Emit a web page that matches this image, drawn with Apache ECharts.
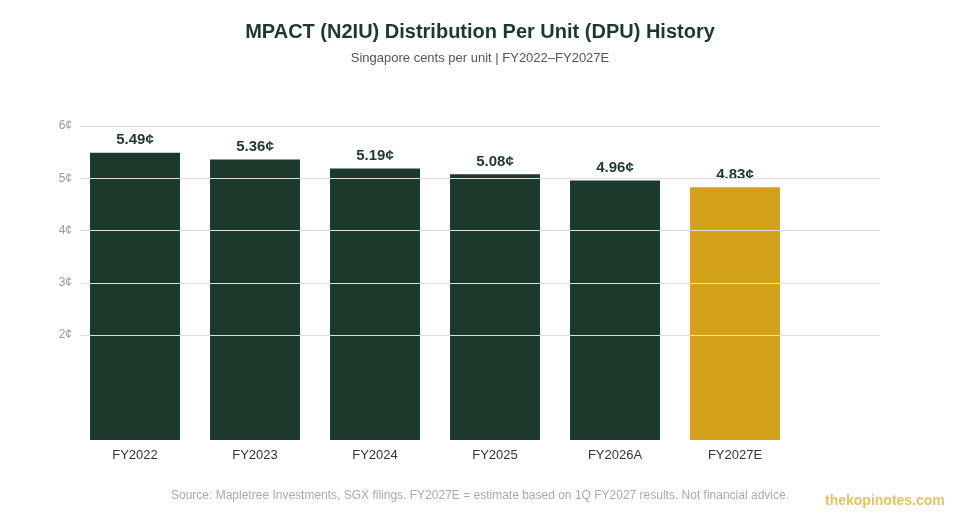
<!DOCTYPE html>
<html>
<head>
<meta charset="utf-8">
<script src="https://cdn.jsdelivr.net/npm/echarts@6/dist/echarts.min.js"></script>
<style>
  html, body { margin: 0; padding: 0; background: #fff; }
  #chart { width: 960px; height: 520px; }
</style>
</head>
<body>
<div id="chart"></div>
<script>
// DPU 数据
let years = ["FY2022", "FY2023", "FY2024", "FY2025", "FY2026A", "FY2027E"];
let dpu = [5.49, 5.36, 5.19, 5.08, 4.96, 4.83];
let estimateIndex = 5; // 估计值用金色
let darkGreen = "#1b3a2b";
let gold = "#d4a11a";

var myChart = echarts.init(document.getElementById("chart"));
option = {
    backgroundColor: "#fff",
    animation: false,
    title: [
        {
            text: "MPACT (N2IU) Distribution Per Unit (DPU) History",
            left: "center",
            top: 17,
            textStyle: { color: darkGreen, fontSize: 20, fontWeight: "bold", fontFamily: "Liberation Sans, Arial" }
        },
        {
            text: "Singapore cents per unit | FY2022\u2013FY2027E",
            left: "center",
            top: 47,
            textStyle: { color: "#555", fontSize: 13, fontWeight: "normal", fontFamily: "Liberation Sans, Arial" }
        },
        {
            text: "Source: Mapletree Investments, SGX filings. FY2027E = estimate based on 1Q FY2027 results. Not financial advice.",
            left: 166,
            top: 485,
            textStyle: { color: "#aaa", fontSize: 12, fontWeight: "normal", fontFamily: "Liberation Sans, Arial" }
        },
        {
            text: "thekopinotes.com",
            left: 820,
            top: 489,
            textStyle: { color: "#e6c263", fontSize: 14, fontWeight: "bold", fontFamily: "Liberation Sans, Arial" }
        }
    ],
    grid: [
        // 网格线和刻度 (2¢ - 6¢)
        { left: 80, right: 80, top: 126, bottom: 185 },
        // 柱子
        { left: 75, right: 165, top: 126, bottom: 80 }
    ],
    xAxis: [
        { gridIndex: 0, type: "value", show: false, min: 0, max: 1 },
        {
            gridIndex: 1,
            type: "category",
            data: years,
            axisLine: { show: false },
            axisTick: { show: false },
            axisLabel: { color: "#333", fontSize: 13, margin: 9, fontFamily: "Liberation Sans, Arial" }
        }
    ],
    yAxis: [
        {
            gridIndex: 0,
            type: "value",
            min: 2,
            max: 6,
            interval: 1,
            z: 5,
            axisLine: { show: false },
            axisTick: { show: false },
            axisLabel: {
                color: "#999",
                fontSize: 12,
                margin: 8,
                fontFamily: "Liberation Sans, Arial",
                formatter: "{value}\u00a2"
            },
            splitLine: { lineStyle: { color: "#dedede", width: 1 } }
        },
        { gridIndex: 1, type: "value", min: 0, max: 6, show: false, splitLine: { show: false } }
    ],
    series: [
        {
            type: "bar",
            xAxisIndex: 1,
            yAxisIndex: 1,
            barWidth: 90,
            data: dpu.map(function (v, i) {
                return { value: v, itemStyle: { color: i == estimateIndex ? gold : darkGreen } };
            }),
            label: {
                show: true,
                position: "top",
                distance: 5,
                color: darkGreen,
                fontSize: 15,
                fontWeight: "bold",
                fontFamily: "Liberation Sans, Arial",
                formatter: function (p) {
                    return p.value.toFixed(2) + "\u00a2";
                }
            }
        }
    ]
};
myChart.setOption(option);
</script>
</body>
</html>
